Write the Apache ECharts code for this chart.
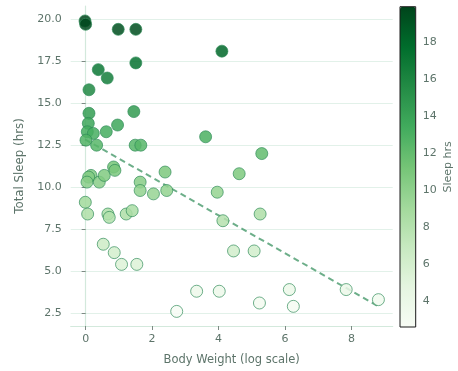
<!DOCTYPE html>
<html>
<head>
<meta charset="utf-8">
<script src="https://cdn.jsdelivr.net/npm/echarts@6/dist/echarts.min.js"></script>
<style>
html,body{margin:0;padding:0;background:#fff;}
#chart{width:458px;height:371px;}
</style>
</head>
<body>
<div id="chart"></div>
<script>
// Data
var bodyWeightLog = [-0.02, 0.0, 0.98, 1.51, 4.10, 1.51, 0.38, 0.65, 0.10, 0.10, 1.45, 0.08, 0.96,
  0.05, 0.23, 0.62, 0.01, 0.33, 1.49, 1.66, 3.61, 5.30, 0.16, 0.09, 0.04, 0.41, 0.56, 0.84, 0.88,
  1.64, 1.64, 2.04, 2.39, 2.44, 3.96, 4.62, -0.01, 0.06, 0.67, 0.71, 1.22, 1.40, 4.13, 5.25,
  0.53, 0.86, 1.08, 1.54, 2.74, 3.34, 4.02, 4.45, 5.07, 5.23, 6.13, 6.25, 7.84, 8.81];
var totalSleep = [19.9, 19.7, 19.4, 19.4, 18.1, 17.4, 17.0, 16.5, 15.8, 14.4, 14.5, 13.8, 13.7,
  13.3, 13.2, 13.3, 12.8, 12.5, 12.5, 12.5, 13.0, 12.0, 10.7, 10.6, 10.3, 10.3, 10.7, 11.2, 11.0,
  10.3, 9.8, 9.6, 10.9, 9.8, 9.7, 10.8, 9.1, 8.4, 8.4, 8.2, 8.4, 8.6, 8.0, 8.4,
  6.6, 6.1, 5.4, 5.4, 2.6, 3.8, 3.8, 6.2, 6.2, 3.1, 3.9, 2.9, 3.9, 3.3];
var trendX = [-0.02, 8.81];
var trendY = [12.85, 2.90];
var xTicks = [0, 2, 4, 6, 8];
var yTicks = [2.5, 5.0, 7.5, 10.0, 12.5, 15.0, 17.5, 20.0];
var cbarTicks = [4, 6, 8, 10, 12, 14, 16, 18];
var colorMin = 2.63, colorMax = 19.92;

var greens = ['#f7fcf5','#e5f5e0','#c7e9c0','#a1d99b','#74c476','#41ab5d','#238b45','#006d2c','#00441b'];

var points = bodyWeightLog.map(function(x, i){ return [x, totalSleep[i]]; });
var trend = trendX.map(function(x, i){ return [x, trendY[i]]; });

var textColor = '#5d746a';
var fontFam = '"DejaVu Sans", sans-serif';

var chart = echarts.init(document.getElementById('chart'), null, {renderer: 'canvas'});
chart.setOption({
  animation: false,
  backgroundColor: '#ffffff',
  textStyle: {fontFamily: fontFam},
  grid: [
    {left: 70.7, top: 6, right: 65.3, bottom: 44, containLabel: false},
    {left: 400, top: 6.7, width: 15.7, height: 320.3, show: true, borderColor: '#1a1a1a', borderWidth: 1, backgroundColor: 'transparent', z: 10}
  ],
  xAxis: [
    {
      type: 'value', gridIndex: 0, min: -0.45, max: 9.24,
      name: 'Body Weight (log scale)', nameLocation: 'middle', nameGap: 28,
      nameTextStyle: {color: textColor, fontSize: 11.5, fontFamily: fontFam},
      axisLine: {show: true, lineStyle: {color: '#d3e9dc', width: 1.2}},
      axisTick: {show: true, length: 4, lineStyle: {color: '#7d8a84'}, customValues: xTicks},
      axisLabel: {color: textColor, fontSize: 11, margin: 8, customValues: xTicks, fontFamily: fontFam},
      splitLine: {show: false}
    },
    {
      type: 'value', gridIndex: 1, min: 0, max: 1, show: false
    }
  ],
  yAxis: [
    {
      type: 'value', gridIndex: 0, min: 1.73, max: 20.79,
      name: 'Total Sleep (hrs)', nameLocation: 'middle', nameGap: 42, nameRotate: 90,
      nameTextStyle: {color: textColor, fontSize: 11.8, fontFamily: fontFam},
      axisLine: {show: true, lineStyle: {color: '#d3e9dc', width: 1.2}},
      axisTick: {show: true, length: 4, lineStyle: {color: '#7d8a84'}, customValues: yTicks},
      axisLabel: {color: textColor, fontSize: 11, margin: 9, customValues: yTicks, fontFamily: fontFam,
        formatter: function(v){ return v.toFixed(1); }},
      splitLine: {show: true, lineStyle: {color: '#e2f1e9', width: 1.2}}
    },
    {
      type: 'value', gridIndex: 1, min: colorMin, max: colorMax, position: 'right',
      name: 'Sleep hrs', nameLocation: 'middle', nameGap: 27, nameRotate: 90,
      nameTextStyle: {color: textColor, fontSize: 11, fontFamily: fontFam},
      axisLine: {show: false},
      axisTick: {show: true, length: 4, inside: false, lineStyle: {color: '#7d8a84'}, customValues: cbarTicks},
      axisLabel: {color: textColor, fontSize: 11, margin: 7, customValues: cbarTicks, fontFamily: fontFam},
      splitLine: {show: false}
    }
  ],
  visualMap: {
    type: 'continuous', seriesIndex: 1, dimension: 1,
    min: colorMin, max: colorMax,
    inRange: {color: greens},
    show: true, calculable: false, hoverLink: false,
    orient: 'vertical', left: 400, top: 6.7, padding: 0,
    itemWidth: 15.7, itemHeight: 320.3, text: null, showLabel: false
  },
  series: [
    {
      type: 'line', xAxisIndex: 0, yAxisIndex: 0, data: trend, symbol: 'none', z: 2,
      lineStyle: {color: 'rgba(46,139,87,0.7)', width: 2, type: [6, 4]}
    },
    {
      type: 'scatter', xAxisIndex: 0, yAxisIndex: 0, data: points, symbolSize: 12, z: 3,
      itemStyle: {opacity: 0.85, borderColor: 'rgba(46,139,87,0.8)', borderWidth: 1}
    }
  ]
});
</script>
</body>
</html>
